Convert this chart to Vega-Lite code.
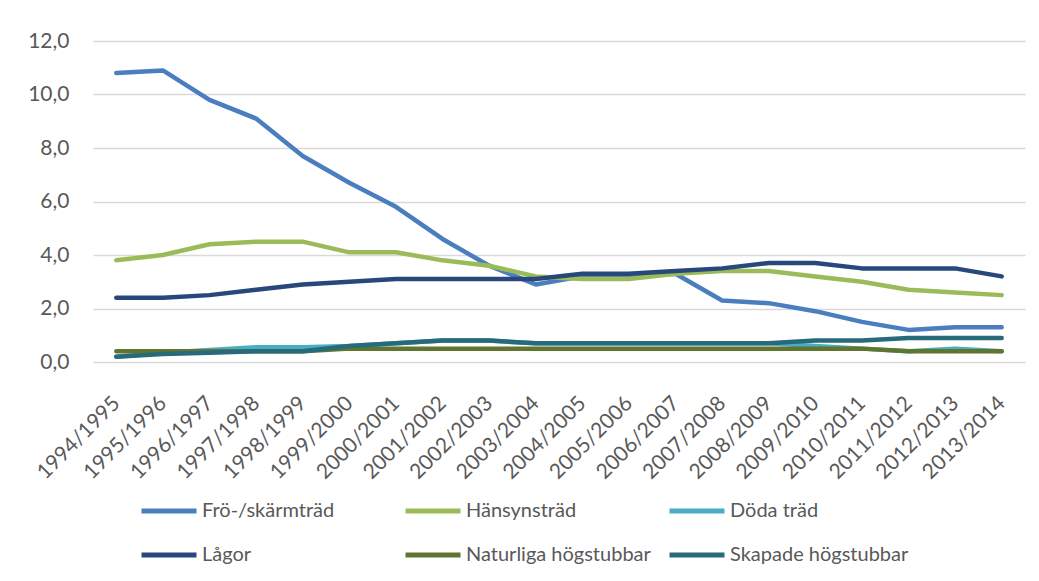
{
  "$schema": "https://vega.github.io/schema/vega-lite/v6.json",
  "width": 932,
  "height": 321,
  "autosize": {"type": "none"},
  "padding": {"left": 93, "top": 41, "right": 14, "bottom": 219},
  "background": "white",
  "config": {
    "view": {"stroke": null},
    "font": "Lato",
    "axis": {"labelFont": "Lato", "labelColor": "#595959", "labelFontSize": 21},
    "legend": {"labelFont": "Lato", "labelColor": "#595959", "labelFontSize": 20}
  },
  "data": {
    "values": [
      {"ar": "1994/1995", "serie": "Frö-/skärmträd", "v": 10.8},
      {"ar": "1995/1996", "serie": "Frö-/skärmträd", "v": 10.9},
      {"ar": "1996/1997", "serie": "Frö-/skärmträd", "v": 9.8},
      {"ar": "1997/1998", "serie": "Frö-/skärmträd", "v": 9.1},
      {"ar": "1998/1999", "serie": "Frö-/skärmträd", "v": 7.7},
      {"ar": "1999/2000", "serie": "Frö-/skärmträd", "v": 6.7},
      {"ar": "2000/2001", "serie": "Frö-/skärmträd", "v": 5.8},
      {"ar": "2001/2002", "serie": "Frö-/skärmträd", "v": 4.6},
      {"ar": "2002/2003", "serie": "Frö-/skärmträd", "v": 3.6},
      {"ar": "2003/2004", "serie": "Frö-/skärmträd", "v": 2.9},
      {"ar": "2004/2005", "serie": "Frö-/skärmträd", "v": 3.2},
      {"ar": "2005/2006", "serie": "Frö-/skärmträd", "v": 3.2},
      {"ar": "2006/2007", "serie": "Frö-/skärmträd", "v": 3.3},
      {"ar": "2007/2008", "serie": "Frö-/skärmträd", "v": 2.3},
      {"ar": "2008/2009", "serie": "Frö-/skärmträd", "v": 2.2},
      {"ar": "2009/2010", "serie": "Frö-/skärmträd", "v": 1.9},
      {"ar": "2010/2011", "serie": "Frö-/skärmträd", "v": 1.5},
      {"ar": "2011/2012", "serie": "Frö-/skärmträd", "v": 1.2},
      {"ar": "2012/2013", "serie": "Frö-/skärmträd", "v": 1.3},
      {"ar": "2013/2014", "serie": "Frö-/skärmträd", "v": 1.3},
      {"ar": "1994/1995", "serie": "Hänsynsträd", "v": 3.8},
      {"ar": "1995/1996", "serie": "Hänsynsträd", "v": 4.0},
      {"ar": "1996/1997", "serie": "Hänsynsträd", "v": 4.4},
      {"ar": "1997/1998", "serie": "Hänsynsträd", "v": 4.5},
      {"ar": "1998/1999", "serie": "Hänsynsträd", "v": 4.5},
      {"ar": "1999/2000", "serie": "Hänsynsträd", "v": 4.1},
      {"ar": "2000/2001", "serie": "Hänsynsträd", "v": 4.1},
      {"ar": "2001/2002", "serie": "Hänsynsträd", "v": 3.8},
      {"ar": "2002/2003", "serie": "Hänsynsträd", "v": 3.6},
      {"ar": "2003/2004", "serie": "Hänsynsträd", "v": 3.2},
      {"ar": "2004/2005", "serie": "Hänsynsträd", "v": 3.1},
      {"ar": "2005/2006", "serie": "Hänsynsträd", "v": 3.1},
      {"ar": "2006/2007", "serie": "Hänsynsträd", "v": 3.3},
      {"ar": "2007/2008", "serie": "Hänsynsträd", "v": 3.4},
      {"ar": "2008/2009", "serie": "Hänsynsträd", "v": 3.4},
      {"ar": "2009/2010", "serie": "Hänsynsträd", "v": 3.2},
      {"ar": "2010/2011", "serie": "Hänsynsträd", "v": 3.0},
      {"ar": "2011/2012", "serie": "Hänsynsträd", "v": 2.7},
      {"ar": "2012/2013", "serie": "Hänsynsträd", "v": 2.6},
      {"ar": "2013/2014", "serie": "Hänsynsträd", "v": 2.5},
      {"ar": "1994/1995", "serie": "Döda träd", "v": 0.2},
      {"ar": "1995/1996", "serie": "Döda träd", "v": 0.35},
      {"ar": "1996/1997", "serie": "Döda träd", "v": 0.45},
      {"ar": "1997/1998", "serie": "Döda träd", "v": 0.55},
      {"ar": "1998/1999", "serie": "Döda träd", "v": 0.55},
      {"ar": "1999/2000", "serie": "Döda träd", "v": 0.6},
      {"ar": "2000/2001", "serie": "Döda träd", "v": 0.7},
      {"ar": "2001/2002", "serie": "Döda träd", "v": 0.8},
      {"ar": "2002/2003", "serie": "Döda träd", "v": 0.8},
      {"ar": "2003/2004", "serie": "Döda träd", "v": 0.7},
      {"ar": "2004/2005", "serie": "Döda träd", "v": 0.7},
      {"ar": "2005/2006", "serie": "Döda träd", "v": 0.7},
      {"ar": "2006/2007", "serie": "Döda träd", "v": 0.7},
      {"ar": "2007/2008", "serie": "Döda träd", "v": 0.7},
      {"ar": "2008/2009", "serie": "Döda träd", "v": 0.7},
      {"ar": "2009/2010", "serie": "Döda träd", "v": 0.6},
      {"ar": "2010/2011", "serie": "Döda träd", "v": 0.5},
      {"ar": "2011/2012", "serie": "Döda träd", "v": 0.4},
      {"ar": "2012/2013", "serie": "Döda träd", "v": 0.5},
      {"ar": "2013/2014", "serie": "Döda träd", "v": 0.4},
      {"ar": "1994/1995", "serie": "Lågor", "v": 2.4},
      {"ar": "1995/1996", "serie": "Lågor", "v": 2.4},
      {"ar": "1996/1997", "serie": "Lågor", "v": 2.5},
      {"ar": "1997/1998", "serie": "Lågor", "v": 2.7},
      {"ar": "1998/1999", "serie": "Lågor", "v": 2.9},
      {"ar": "1999/2000", "serie": "Lågor", "v": 3.0},
      {"ar": "2000/2001", "serie": "Lågor", "v": 3.1},
      {"ar": "2001/2002", "serie": "Lågor", "v": 3.1},
      {"ar": "2002/2003", "serie": "Lågor", "v": 3.1},
      {"ar": "2003/2004", "serie": "Lågor", "v": 3.1},
      {"ar": "2004/2005", "serie": "Lågor", "v": 3.3},
      {"ar": "2005/2006", "serie": "Lågor", "v": 3.3},
      {"ar": "2006/2007", "serie": "Lågor", "v": 3.4},
      {"ar": "2007/2008", "serie": "Lågor", "v": 3.5},
      {"ar": "2008/2009", "serie": "Lågor", "v": 3.7},
      {"ar": "2009/2010", "serie": "Lågor", "v": 3.7},
      {"ar": "2010/2011", "serie": "Lågor", "v": 3.5},
      {"ar": "2011/2012", "serie": "Lågor", "v": 3.5},
      {"ar": "2012/2013", "serie": "Lågor", "v": 3.5},
      {"ar": "2013/2014", "serie": "Lågor", "v": 3.2},
      {"ar": "1994/1995", "serie": "Naturliga högstubbar", "v": 0.4},
      {"ar": "1995/1996", "serie": "Naturliga högstubbar", "v": 0.4},
      {"ar": "1996/1997", "serie": "Naturliga högstubbar", "v": 0.4},
      {"ar": "1997/1998", "serie": "Naturliga högstubbar", "v": 0.4},
      {"ar": "1998/1999", "serie": "Naturliga högstubbar", "v": 0.4},
      {"ar": "1999/2000", "serie": "Naturliga högstubbar", "v": 0.5},
      {"ar": "2000/2001", "serie": "Naturliga högstubbar", "v": 0.5},
      {"ar": "2001/2002", "serie": "Naturliga högstubbar", "v": 0.5},
      {"ar": "2002/2003", "serie": "Naturliga högstubbar", "v": 0.5},
      {"ar": "2003/2004", "serie": "Naturliga högstubbar", "v": 0.5},
      {"ar": "2004/2005", "serie": "Naturliga högstubbar", "v": 0.5},
      {"ar": "2005/2006", "serie": "Naturliga högstubbar", "v": 0.5},
      {"ar": "2006/2007", "serie": "Naturliga högstubbar", "v": 0.5},
      {"ar": "2007/2008", "serie": "Naturliga högstubbar", "v": 0.5},
      {"ar": "2008/2009", "serie": "Naturliga högstubbar", "v": 0.5},
      {"ar": "2009/2010", "serie": "Naturliga högstubbar", "v": 0.5},
      {"ar": "2010/2011", "serie": "Naturliga högstubbar", "v": 0.5},
      {"ar": "2011/2012", "serie": "Naturliga högstubbar", "v": 0.4},
      {"ar": "2012/2013", "serie": "Naturliga högstubbar", "v": 0.4},
      {"ar": "2013/2014", "serie": "Naturliga högstubbar", "v": 0.4},
      {"ar": "1994/1995", "serie": "Skapade högstubbar", "v": 0.2},
      {"ar": "1995/1996", "serie": "Skapade högstubbar", "v": 0.3},
      {"ar": "1996/1997", "serie": "Skapade högstubbar", "v": 0.35},
      {"ar": "1997/1998", "serie": "Skapade högstubbar", "v": 0.4},
      {"ar": "1998/1999", "serie": "Skapade högstubbar", "v": 0.4},
      {"ar": "1999/2000", "serie": "Skapade högstubbar", "v": 0.6},
      {"ar": "2000/2001", "serie": "Skapade högstubbar", "v": 0.7},
      {"ar": "2001/2002", "serie": "Skapade högstubbar", "v": 0.8},
      {"ar": "2002/2003", "serie": "Skapade högstubbar", "v": 0.8},
      {"ar": "2003/2004", "serie": "Skapade högstubbar", "v": 0.7},
      {"ar": "2004/2005", "serie": "Skapade högstubbar", "v": 0.7},
      {"ar": "2005/2006", "serie": "Skapade högstubbar", "v": 0.7},
      {"ar": "2006/2007", "serie": "Skapade högstubbar", "v": 0.7},
      {"ar": "2007/2008", "serie": "Skapade högstubbar", "v": 0.7},
      {"ar": "2008/2009", "serie": "Skapade högstubbar", "v": 0.7},
      {"ar": "2009/2010", "serie": "Skapade högstubbar", "v": 0.8},
      {"ar": "2010/2011", "serie": "Skapade högstubbar", "v": 0.8},
      {"ar": "2011/2012", "serie": "Skapade högstubbar", "v": 0.9},
      {"ar": "2012/2013", "serie": "Skapade högstubbar", "v": 0.9},
      {"ar": "2013/2014", "serie": "Skapade högstubbar", "v": 0.9}
    ]
  },
  "mark": {"type": "line", "strokeWidth": 4.5, "strokeCap": "round", "strokeJoin": "round"},
  "encoding": {
    "x": {
      "field": "ar", "type": "ordinal", "sort": null,
      "scale": {"type": "point", "padding": 0.5},
      "axis": {"title": null, "domain": false, "ticks": false, "grid": false, "labelAngle": -45, "labelAlign": "right", "labelBaseline": "middle", "labelPadding": 38}
    },
    "y": {
      "field": "v", "type": "quantitative",
      "scale": {"domain": [0, 12], "nice": false},
      "axis": {"title": null, "domain": false, "ticks": false, "values": [0, 2, 4, 6, 8, 10, 12], "labelExpr": "replace(format(datum.value, '.1f'), '.', ',')", "labelPadding": 24, "gridColor": "#d9d9d9", "gridWidth": 1.5}
    },
    "color": {
      "field": "serie", "type": "nominal",
      "scale": {
        "domain": ["Frö-/skärmträd", "Hänsynsträd", "Döda träd", "Lågor", "Naturliga högstubbar", "Skapade högstubbar"],
        "range": ["#4a7ebf", "#9bbb59", "#4bacc6", "#28477a", "#5f7530", "#276a7a"]
      },
      "legend": {
        "title": null, "orient": "none", "legendX": 46, "legendY": 440,
        "direction": "horizontal",
        "columns": 3, "gridAlign": "all", "columnPadding": 8, "rowPadding": 4,
        "symbolType": "stroke", "symbolSize": 3025, "symbolStrokeWidth": 5,
        "labelOffset": 3, "labelLimit": 300, "padding": 0
      }
    }
  }
}
